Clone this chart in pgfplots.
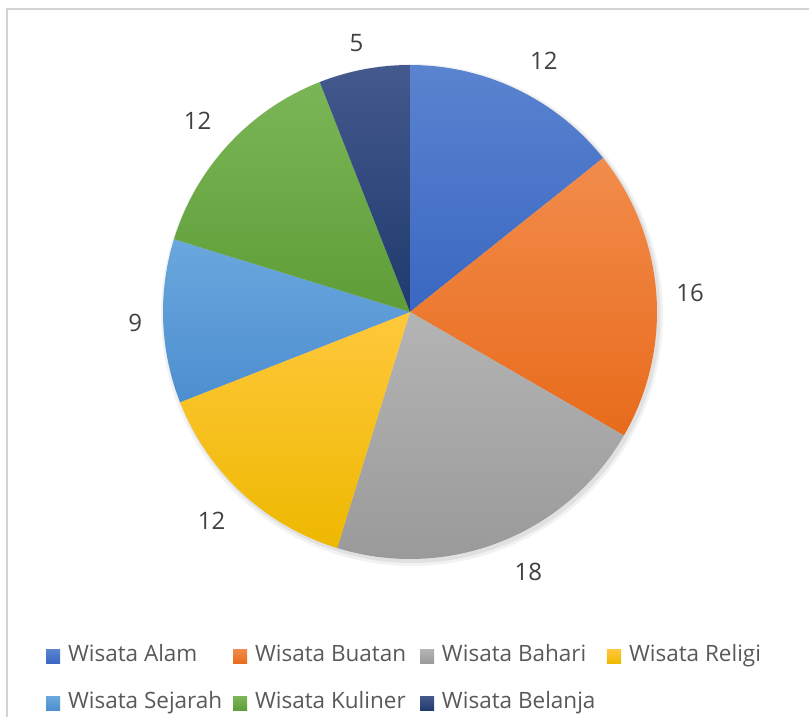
\documentclass[border=0pt]{standalone}
\usepackage{pgfplots}
\usepackage{pgfplotstable}
\pgfplotsset{compat=1.18}
\usepackage{fontspec}
\setmainfont{Open Sans}
\definecolor{top0}{HTML}{5A83D0}\definecolor{bot0}{HTML}{3A67C1}
\definecolor{top1}{HTML}{F28C4C}\definecolor{bot1}{HTML}{E86B1B}
\definecolor{top2}{HTML}{B4B4B4}\definecolor{bot2}{HTML}{9A9A9A}
\definecolor{top3}{HTML}{FFC83C}\definecolor{bot3}{HTML}{EEB800}
\definecolor{top4}{HTML}{6AA7DE}\definecolor{bot4}{HTML}{4D8ECF}
\definecolor{top5}{HTML}{7BB656}\definecolor{bot5}{HTML}{5E9D38}
\definecolor{top6}{HTML}{44598D}\definecolor{bot6}{HTML}{1F3A6E}
\definecolor{labc}{HTML}{404040}
\definecolor{legc}{HTML}{595959}
\definecolor{framec}{HTML}{D4D4D4}

% value, and label offset (px) from the default label position
\pgfplotstableread{
name value ldx ldy
Alam 12 11 -4
Buatan 16 -2 -2
Bahari 18 15 3
Religi 12 -6 -1
Sejarah 9 8 0
Kuliner 12 -5 -1
Belanja 5 -1 -9
}\piedata

\begin{document}
\begin{tikzpicture}
\useasboundingbox (0,0) rectangle (809pt,717pt);
\draw[line width=2pt, color=framec] (7pt,-5pt) -- (7pt,708pt) -- (815pt,708pt);
\begin{axis}[at={(0,0)}, anchor=south west, scale only axis, width=809pt, height=717pt,
  xmin=0, xmax=809, ymin=0, ymax=717, hide axis, clip=false,
  legend columns=4, legend cell align=left,
  legend style={draw=none, fill=none, at={(axis cs:46,71)}, anchor=north west,
    inner sep=0pt, outer sep=0pt, font=\fontsize{22.5}{26}\selectfont, text=legc,
    nodes={inner sep=0pt, text height=16pt, text depth=5pt}, row sep=26pt,
    /tikz/every odd column/.style={column sep=8pt}},
  legend image code/.code={\fill[#1] (0pt,-7pt) rectangle (14pt,7pt);}
]
% soft shadow
\addplot[forget plot, draw=none, fill=black, fill opacity=0.05, domain=0:360, samples=181, variable=\t]
  ({412+251*cos(\t)},{402+251*sin(\t)}) -- cycle;
\addplot[forget plot, draw=none, fill=black, fill opacity=0.07, domain=0:360, samples=181, variable=\t]
  ({412+248.5*cos(\t)},{402.5+248.5*sin(\t)}) -- cycle;
\def\total{0}
\pgfplotsforeachungrouped \i in {0,...,6}{%
  \pgfplotstablegetelem{\i}{value}\of\piedata
  \pgfmathsetmacro\total{\total+\pgfplotsretval}%
}
\def\start{90}
\pgfplotsforeachungrouped \i in {0,...,6}{%
  \pgfplotstablegetelem{\i}{value}\of\piedata \let\v\pgfplotsretval
  \pgfplotstablegetelem{\i}{name}\of\piedata \let\n\pgfplotsretval
  \pgfplotstablegetelem{\i}{ldx}\of\piedata \let\ldx\pgfplotsretval
  \pgfplotstablegetelem{\i}{ldy}\of\piedata \let\ldy\pgfplotsretval
  \pgfmathsetmacro\stop{\start-360*\v/\total}%
  \pgfmathsetmacro\mid{(\start+\stop)/2}%
  \pgfmathsetmacro\lx{410+283*cos(\mid)+\ldx}%
  \pgfmathsetmacro\ly{405+283*sin(\mid)+\ldy}%
  \edef\cmd{%
    \noexpand\addplot[draw=none, top color=top\i, bottom color=bot\i, domain=\stop:\start, samples=90, variable=\noexpand\t]
      ({410+247*cos(\noexpand\t)},{405+247*sin(\noexpand\t)}) -- (axis cs:410,405) -- cycle;
    \noexpand\addlegendentry{\noexpand\makebox[165pt][l]{Wisata \n}}
    \noexpand\node[text=labc, font=\noexpand\fontsize{24}{28}\noexpand\selectfont] at (axis cs:\lx,\ly) {\v};
  }%
  \cmd
  \let\start\stop
}
\end{axis}
\end{tikzpicture}
\end{document}
